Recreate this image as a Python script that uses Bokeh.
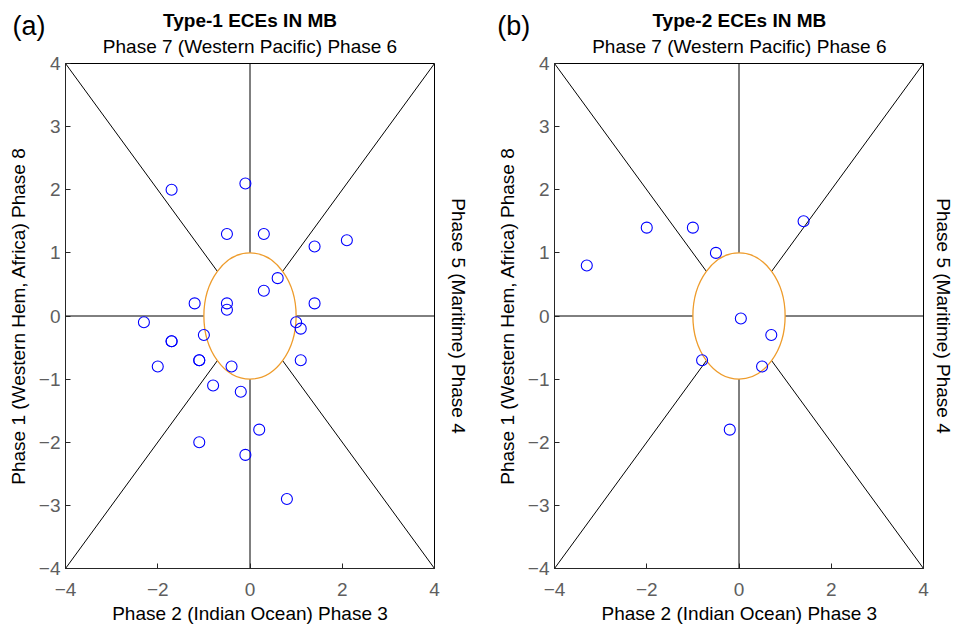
import numpy as np
from bokeh.plotting import figure
from bokeh.layouts import row, column
from bokeh.models import Range1d, FixedTicker
from bokeh.core.properties import value
from bokeh.embed import file_html
from bokeh.resources import INLINE

# ---------------- data ----------------
# Type-1 ECEs in MB : (RMM1, RMM2)
type1_rmm1 = [-1.7, -0.1, -0.5, 0.3, 1.4, 2.1, 0.6, 0.3, -1.2, -0.5, -0.5, 1.4,
              -2.3, 1.0, 1.1, -1.0, -1.7, -1.7, -2.0, -1.1, -1.1, -0.4, 1.1,
              -0.8, -0.2, 0.2, -1.1, -0.1, 0.8]
type1_rmm2 = [2.0, 2.1, 1.3, 1.3, 1.1, 1.2, 0.6, 0.4, 0.2, 0.2, 0.1, 0.2,
              -0.1, -0.1, -0.2, -0.3, -0.4, -0.4, -0.8, -0.7, -0.7, -0.8, -0.7,
              -1.1, -1.2, -1.8, -2.0, -2.2, -2.9]
# Type-2 ECEs in MB : (RMM1, RMM2)
type2_rmm1 = [-3.3, -2.0, -1.0, -0.5, 1.4, 0.04, 0.7, -0.8, 0.5, -0.2]
type2_rmm2 = [0.8, 1.4, 1.4, 1.0, 1.5, -0.04, -0.3, -0.7, -0.8, -1.8]

x_ticks = [-4, -2, 0, 2, 4]
x_tick_labels = ["\u22124", "\u22122", "0", "2", "4"]
y_ticks = [-4, -3, -2, -1, 0, 1, 2, 3, 4]
y_tick_labels = ["\u22124", "\u22123", "\u22122", "\u22121", "0", "1", "2", "3", "4"]

phase_angles_deg = [0, 45, 90, 135, 180, 225, 270, 315]
amp_threshold = 1.0
axis_limit = 4.0

panel_letters = ["(a)", "(b)"]
panel_titles = ["Type-1 ECEs IN MB", "Type-2 ECEs IN MB"]
top_label = "Phase 7 (Western Pacific) Phase 6"
bottom_label = "Phase 2 (Indian Ocean) Phase 3"
left_label = "Phase 1 (Western Hem, Africa) Phase 8"
right_label = "Phase 5 (Maritime) Phase 4"

FONT = "Liberation Sans"
ORANGE = "#EE9C2C"
PAGE_W, PAGE_H = 954, 624
PANEL_W = 477


def make_panel(xs, ys, border_left, border_right):
    p = figure(width=PANEL_W, height=PAGE_H, title=None,
               x_range=Range1d(-axis_limit, axis_limit),
               y_range=Range1d(-axis_limit, axis_limit),
               output_backend="svg", toolbar_location=None,
               min_border_left=border_left, min_border_right=border_right,
               min_border_top=63, min_border_bottom=56)
    p.xgrid.visible = False
    p.ygrid.visible = False
    p.outline_line_color = "black"
    p.outline_line_width = 1
    p.background_fill_color = "white"
    p.border_fill_color = None

    for ax, ticks, labels in ((p.xaxis[0], x_ticks, x_tick_labels),
                              (p.yaxis[0], y_ticks, y_tick_labels)):
        ax.ticker = FixedTicker(ticks=ticks, minor_ticks=[])
        ax.major_label_overrides = dict(zip(ticks, labels))
        ax.major_tick_in = 5
        ax.major_tick_out = 0
        ax.minor_tick_line_color = None
        ax.axis_line_color = "#262626"
        ax.major_tick_line_color = "#262626"
        ax.major_label_text_font = FONT
        ax.major_label_text_font_size = "19px"
        ax.major_label_text_color = "#5e5e5e"
        ax.axis_label_text_font = FONT
        ax.axis_label_text_font_size = "19px"
        ax.axis_label_text_font_style = "normal"
        ax.axis_label_text_color = "black"
    p.xaxis.major_label_standoff = 14
    p.yaxis.major_label_standoff = 5
    p.yaxis.axis_label = left_label
    p.yaxis.axis_label_standoff = 7

    # phase boundary lines
    xs0, ys0, xs1, ys1 = [], [], [], []
    for a in phase_angles_deg:
        c, s = np.cos(np.radians(a)), np.sin(np.radians(a))
        c = 0.0 if abs(c) < 1e-9 else c
        s = 0.0 if abs(s) < 1e-9 else s
        scale = axis_limit / max(abs(c), abs(s))
        xs0.append(amp_threshold * c)
        ys0.append(amp_threshold * s)
        xs1.append(scale * c)
        ys1.append(scale * s)
    p.segment(x0=xs0, y0=ys0, x1=xs1, y1=ys1, line_color="black", line_width=1)

    # unit amplitude circle
    p.ellipse(x=[0], y=[0], width=[2 * amp_threshold], height=[2 * amp_threshold],
              fill_color=None, line_color=ORANGE, line_width=1.3)

    # events
    p.scatter(xs, ys, marker="circle", size=11, fill_color=None,
              line_color="#0000FF", line_width=1.1)
    return p


pa = make_panel(type1_rmm1, type1_rmm2, 65, 43)
pb = make_panel(type2_rmm1, type2_rmm2, 77, 31)

# transparent overlay (page pixel coordinates, y downward) for the panel texts
ov = figure(width=PAGE_W, height=PAGE_H, title=None,
            x_range=Range1d(0, PAGE_W), y_range=Range1d(PAGE_H, 0),
            x_axis_type=None, y_axis_type=None,
            output_backend="svg", toolbar_location=None, min_border=0,
            margin=(-PAGE_H, 0, 0, 0))
ov.xgrid.visible = False
ov.ygrid.visible = False
ov.outline_line_color = None
ov.background_fill_color = None
ov.border_fill_color = None

letter_x = [12, 496.7]
center_x = [249.5, 738.8]
right_x = [458.3, 943.2]
ov.text(x=letter_x, y=[25.6, 25.6], text=panel_letters, text_font=value(FONT),
        text_font_size="27px", text_align="left", text_baseline="middle",
        text_color="black")
ov.text(x=center_x, y=[20.4, 20.4], text=panel_titles, text_font=value(FONT),
        text_font_size="19px", text_font_style="bold", text_align="center",
        text_baseline="middle", text_color="black")
ov.text(x=center_x, y=[45.7, 45.7], text=[top_label, top_label], text_font=value(FONT),
        text_font_size="19px", text_align="center", text_baseline="middle",
        text_color="black")
ov.text(x=center_x, y=[613.2, 613.2], text=[bottom_label, bottom_label],
        text_font=value(FONT), text_font_size="19px", text_align="center",
        text_baseline="middle", text_color="black")
ov.text(x=right_x, y=[315.5, 315.5], text=[right_label, right_label],
        text_font=value(FONT), text_font_size="19px", text_align="center",
        text_baseline="middle", angle=-np.pi / 2, text_color="black")

layout = column(row(pa, pb, spacing=0), ov, spacing=0)
open("out.html", "w").write(file_html(layout, INLINE))
